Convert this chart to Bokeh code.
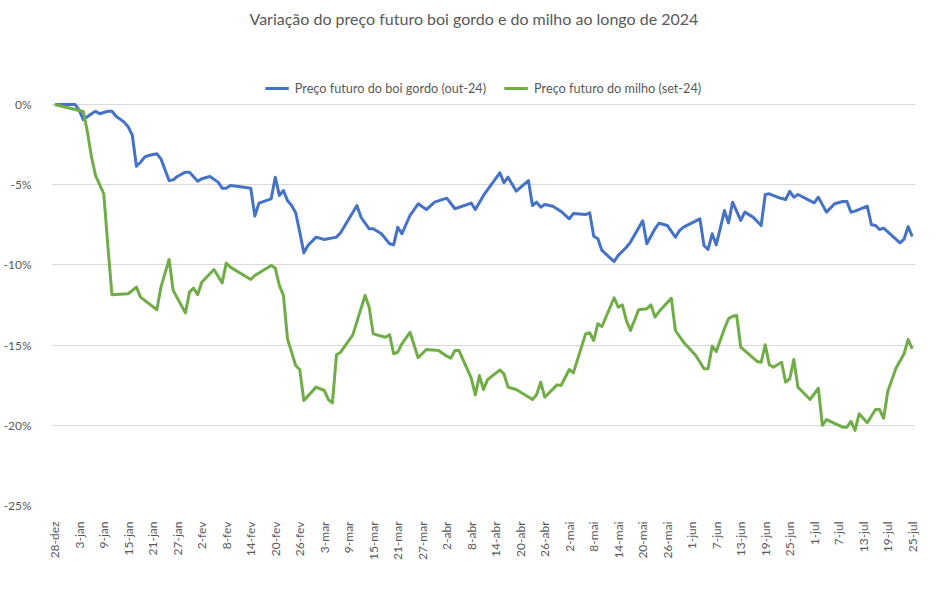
import math
import pandas as pd
from bokeh.plotting import figure
from bokeh.models import FixedTicker, PrintfTickFormatter, Range1d
from bokeh.embed import file_html
from bokeh.resources import INLINE

# ---------------- data (percent change) ----------------
boi_dates = ["2023-12-28","2024-01-02","2024-01-03","2024-01-04","2024-01-06","2024-01-07","2024-01-08","2024-01-10",
             "2024-01-11","2024-01-12","2024-01-14","2024-01-15","2024-01-16","2024-01-17","2024-01-18","2024-01-19",
             "2024-01-20","2024-01-22","2024-01-23","2024-01-25","2024-01-26","2024-01-27","2024-01-29","2024-01-30",
             "2024-02-01","2024-02-02","2024-02-04","2024-02-06","2024-02-07","2024-02-08","2024-02-09","2024-02-11",
             "2024-02-14","2024-02-15","2024-02-16","2024-02-19","2024-02-20","2024-02-21","2024-02-22","2024-02-23",
             "2024-02-24","2024-02-25","2024-02-26","2024-02-27","2024-02-28","2024-03-01","2024-03-03","2024-03-06",
             "2024-03-07","2024-03-11","2024-03-12","2024-03-14","2024-03-15","2024-03-17","2024-03-19","2024-03-20",
             "2024-03-21","2024-03-22","2024-03-24","2024-03-26","2024-03-28","2024-03-30","2024-04-02","2024-04-04",
             "2024-04-08","2024-04-09","2024-04-11","2024-04-15","2024-04-16","2024-04-17","2024-04-19","2024-04-22",
             "2024-04-23","2024-04-24","2024-04-25","2024-04-26","2024-04-28","2024-04-30","2024-05-02","2024-05-03",
             "2024-05-06","2024-05-07","2024-05-08","2024-05-09","2024-05-10","2024-05-13","2024-05-14","2024-05-16",
             "2024-05-17","2024-05-20","2024-05-21","2024-05-23","2024-05-24","2024-05-26","2024-05-28","2024-05-29",
             "2024-05-30","2024-06-03","2024-06-04","2024-06-05","2024-06-06","2024-06-07","2024-06-08","2024-06-09",
             "2024-06-10","2024-06-11","2024-06-13","2024-06-14","2024-06-16","2024-06-18","2024-06-19","2024-06-20",
             "2024-06-22","2024-06-24","2024-06-25","2024-06-26","2024-06-27","2024-07-01","2024-07-02","2024-07-04",
             "2024-07-06","2024-07-08","2024-07-09","2024-07-10","2024-07-11","2024-07-14","2024-07-15","2024-07-16",
             "2024-07-17","2024-07-18","2024-07-22","2024-07-23","2024-07-24","2024-07-25"]
boi_values = [0.00, 0.00, -0.37, -0.94, -0.58, -0.42, -0.58, -0.42,
              -0.42, -0.73, -1.10, -1.40, -1.93, -3.85, -3.60, -3.28,
              -3.18, -3.07, -3.39, -4.74, -4.70, -4.49, -4.22, -4.22,
              -4.78, -4.63, -4.49, -4.84, -5.22, -5.22, -5.05, -5.11,
              -5.22, -6.96, -6.15, -5.88, -4.53, -5.67, -5.36, -5.99,
              -6.30, -6.75, -7.96, -9.25, -8.79, -8.27, -8.42, -8.27,
              -8.00, -6.30, -7.03, -7.75, -7.75, -8.06, -8.68, -8.75,
              -7.65, -8.06, -6.92, -6.19, -6.55, -6.09, -5.84, -6.50,
              -6.15, -6.55, -5.67, -4.26, -4.88, -4.53, -5.40, -4.74,
              -6.30, -6.09, -6.40, -6.23, -6.34, -6.67, -7.13, -6.80,
              -6.86, -6.75, -8.21, -8.37, -9.10, -9.79, -9.41, -8.90,
              -8.58, -7.25, -8.68, -7.75, -7.40, -7.54, -8.27, -7.86,
              -7.65, -7.13, -8.79, -9.04, -8.06, -8.75, -7.71, -6.61,
              -7.38, -6.09, -7.23, -6.71, -7.02, -7.54, -5.61, -5.57,
              -5.78, -5.92, -5.42, -5.78, -5.61, -6.13, -5.78, -6.71,
              -6.19, -6.05, -6.05, -6.71, -6.65, -6.34, -7.50, -7.54,
              -7.79, -7.71, -8.62, -8.40, -7.61, -8.23]

milho_dates = ["2023-12-28","2024-01-03","2024-01-04","2024-01-05","2024-01-06","2024-01-07","2024-01-09","2024-01-10",
               "2024-01-11","2024-01-15","2024-01-17","2024-01-18","2024-01-22","2024-01-23","2024-01-25","2024-01-26",
               "2024-01-29","2024-01-30","2024-01-31","2024-02-01","2024-02-02","2024-02-05","2024-02-07","2024-02-08",
               "2024-02-09","2024-02-14","2024-02-15","2024-02-19","2024-02-20","2024-02-21","2024-02-22","2024-02-23",
               "2024-02-25","2024-02-26","2024-02-27","2024-03-01","2024-03-03","2024-03-04","2024-03-05","2024-03-06",
               "2024-03-07","2024-03-10","2024-03-13","2024-03-14","2024-03-15","2024-03-18","2024-03-19","2024-03-20",
               "2024-03-21","2024-03-22","2024-03-24","2024-03-26","2024-03-28","2024-03-31","2024-04-02","2024-04-03",
               "2024-04-04","2024-04-05","2024-04-08","2024-04-09","2024-04-10","2024-04-11","2024-04-12","2024-04-15",
               "2024-04-16","2024-04-17","2024-04-19","2024-04-23","2024-04-24","2024-04-25","2024-04-26","2024-04-29",
               "2024-04-30","2024-05-02","2024-05-03","2024-05-06","2024-05-07","2024-05-08","2024-05-09","2024-05-10",
               "2024-05-13","2024-05-14","2024-05-15","2024-05-16","2024-05-17","2024-05-19","2024-05-21","2024-05-22",
               "2024-05-23","2024-05-24","2024-05-27","2024-05-28","2024-05-30","2024-06-02","2024-06-04","2024-06-05",
               "2024-06-06","2024-06-07","2024-06-09","2024-06-10","2024-06-11","2024-06-12","2024-06-13","2024-06-17",
               "2024-06-18","2024-06-19","2024-06-20","2024-06-21","2024-06-23","2024-06-24","2024-06-25","2024-06-26",
               "2024-06-27","2024-06-30","2024-07-02","2024-07-03","2024-07-04","2024-07-08","2024-07-09","2024-07-10",
               "2024-07-11","2024-07-12","2024-07-14","2024-07-16","2024-07-17","2024-07-18","2024-07-19","2024-07-21",
               "2024-07-23","2024-07-24","2024-07-25"]
milho_values = [0.00, -0.37, -0.44, -1.72, -3.28, -4.43, -5.57, -8.79,
                -11.86, -11.80, -11.39, -12.01, -12.80, -11.39, -9.66, -11.60,
                -12.99, -11.70, -11.45, -11.86, -11.08, -10.29, -11.12, -9.89,
                -10.14, -10.91, -10.66, -10.04, -10.20, -11.28, -11.90, -14.61,
                -16.27, -16.52, -18.45, -17.62, -17.83, -18.39, -18.60, -15.60,
                -15.44, -14.36, -11.90, -12.64, -14.30, -14.51, -14.36, -15.54,
                -15.44, -14.92, -14.20, -15.79, -15.27, -15.34, -15.69, -15.81,
                -15.34, -15.34, -17.06, -18.10, -16.90, -17.77, -17.15, -16.55,
                -16.79, -17.62, -17.77, -18.39, -18.10, -17.31, -18.25, -17.48,
                -17.52, -16.52, -16.73, -14.30, -14.23, -14.71, -13.67, -13.84,
                -12.05, -12.64, -12.49, -13.47, -14.09, -12.80, -12.74, -12.49,
                -13.26, -12.91, -12.08, -14.09, -14.82, -15.65, -16.48, -16.48,
                -15.07, -15.40, -13.98, -13.36, -13.20, -13.15, -15.13, -16.02,
                -16.07, -14.98, -16.23, -16.38, -16.07, -17.31, -17.10, -15.90,
                -17.62, -18.39, -17.69, -20.01, -19.64, -20.12, -20.12, -19.76,
                -20.32, -19.28, -19.84, -19.02, -19.02, -19.56, -17.89, -16.44,
                -15.54, -14.65, -15.23]

tick_dates = ["2023-12-28","2024-01-03","2024-01-09","2024-01-15","2024-01-21","2024-01-27","2024-02-02","2024-02-08",
              "2024-02-14","2024-02-20","2024-02-26","2024-03-03","2024-03-09","2024-03-15","2024-03-21","2024-03-27",
              "2024-04-02","2024-04-08","2024-04-14","2024-04-20","2024-04-26","2024-05-02","2024-05-08","2024-05-14",
              "2024-05-20","2024-05-26","2024-06-01","2024-06-07","2024-06-13","2024-06-19","2024-06-25","2024-07-01",
              "2024-07-07","2024-07-13","2024-07-19","2024-07-25"]
tick_labels = ["28-dez","3-jan","9-jan","15-jan","21-jan","27-jan","2-fev","8-fev","14-fev","20-fev","26-fev",
               "3-mar","9-mar","15-mar","21-mar","27-mar","2-abr","8-abr","14-abr","20-abr","26-abr",
               "2-mai","8-mai","14-mai","20-mai","26-mai","1-jun","7-jun","13-jun","19-jun","25-jun",
               "1-jul","7-jul","13-jul","19-jul","25-jul"]
y_ticks = [-25, -20, -15, -10, -5, 0]

series_names = ["Preço futuro do boi gordo (out-24)", "Preço futuro do milho (set-24)"]
title_text = "Variação do preço futuro boi gordo e do milho ao longo de 2024"

# ---------------- figure ----------------
FONT = "Lato"
GREY = "#595959"

base = pd.Timestamp(tick_dates[0])
x_start = base - pd.Timedelta(days=0.8)
x_end = pd.Timestamp(tick_dates[-1]) + pd.Timedelta(days=0.8)

p = figure(width=932, height=573, x_axis_type="datetime", output_backend="svg",
           toolbar_location=None,
           x_range=Range1d(x_start, x_end), y_range=Range1d(-25, 4.80),
           min_border_left=49, min_border_right=17, min_border_bottom=68, min_border_top=27)

p.title.text = title_text
p.title.align = "left"
p.title.offset = 198
p.title.text_font = FONT
p.title.text_font_size = "16px"
p.title.text_font_style = "normal"
p.title.text_color = GREY
p.title.standoff = 0

p.outline_line_color = None
p.background_fill_color = "white"
p.border_fill_color = "white"

bx = pd.to_datetime(boi_dates)
mx = pd.to_datetime(milho_dates)
p.line(bx, boi_values, line_color="#4472C4", line_width=3, line_join="round",
       legend_label=series_names[0])
p.line(mx, milho_values, line_color="#70AD47", line_width=3, line_join="round",
       legend_label=series_names[1])

# y axis
p.yaxis.ticker = FixedTicker(ticks=y_ticks)
p.yaxis.formatter = PrintfTickFormatter(format="%d%%")
p.yaxis.axis_line_color = None
p.yaxis.major_tick_line_color = None
p.yaxis.minor_tick_line_color = None
p.yaxis.major_label_text_font = FONT
p.yaxis.major_label_text_font_size = "12px"
p.yaxis.major_label_text_color = GREY
p.yaxis.major_label_standoff = 14

# x axis
tick_ms = [float(pd.Timestamp(d).value // 10**6) for d in tick_dates]
p.xaxis.ticker = FixedTicker(ticks=tick_ms)
p.xaxis.major_label_overrides = {t: lab for t, lab in zip(tick_ms, tick_labels)}
p.xaxis.major_label_orientation = math.pi / 2
p.xaxis.axis_line_color = None
p.xaxis.major_tick_line_color = None
p.xaxis.minor_tick_line_color = None
p.xaxis.major_label_text_font = FONT
p.xaxis.major_label_text_font_size = "12px"
p.xaxis.major_label_text_color = GREY
p.xaxis.major_label_standoff = 10

p.xgrid.visible = False
p.ygrid.grid_line_color = "#D9D9D9"
p.ygrid.grid_line_width = 1

# legend
lg = p.legend[0]
lg.location = "top_center"
lg.orientation = "horizontal"
lg.border_line_color = None
lg.background_fill_alpha = 0
lg.label_text_font = FONT
lg.label_text_font_size = "12.7px"
lg.label_text_color = GREY
lg.glyph_width = 24
lg.glyph_height = 14
lg.label_standoff = 6
lg.spacing = 18
lg.padding = 0
lg.margin = 53

open("out.html", "w").write(file_html(p, INLINE))
